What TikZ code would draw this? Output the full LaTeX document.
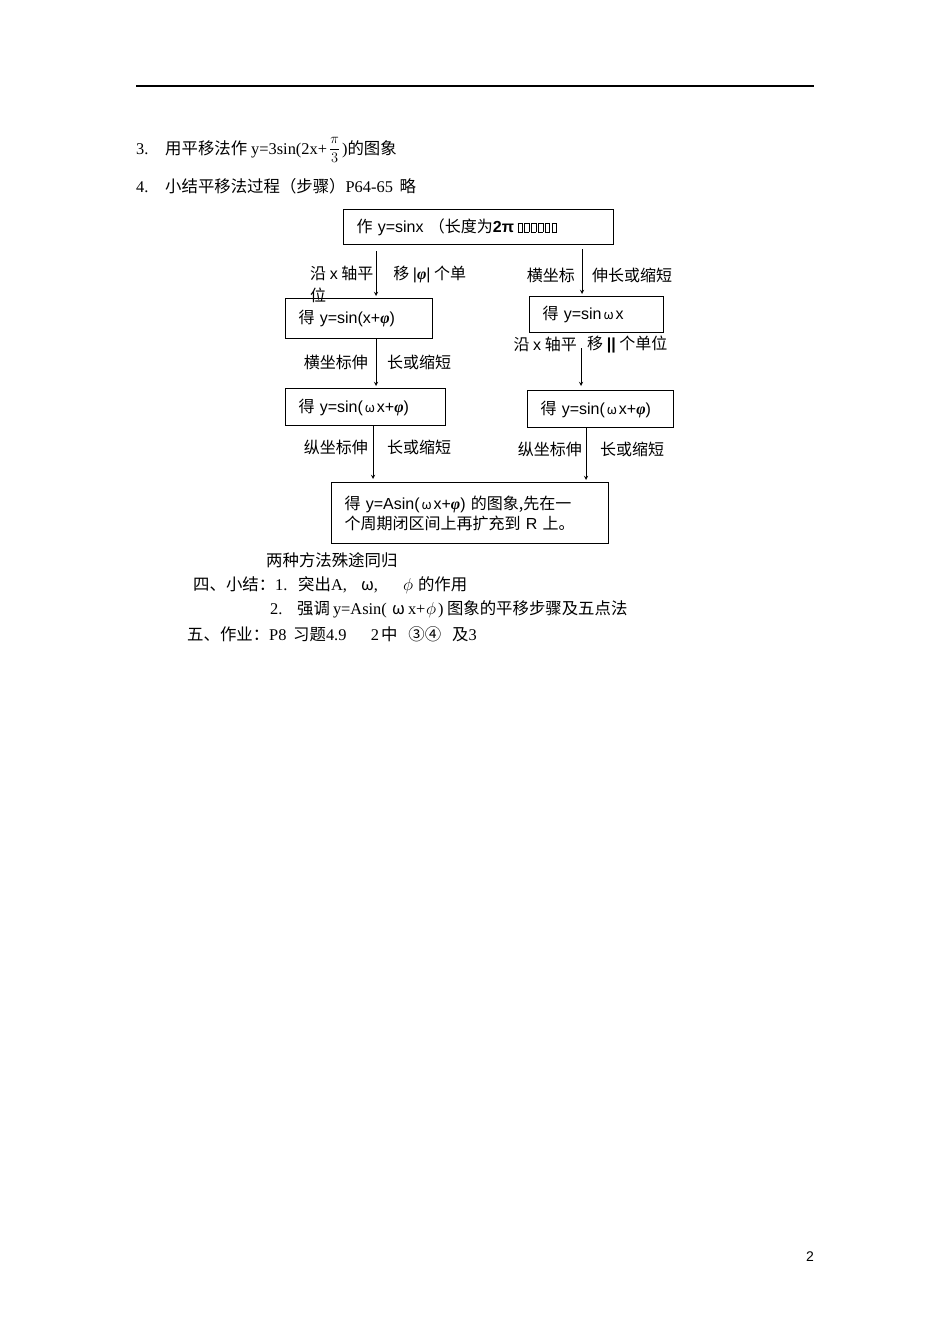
\documentclass[tikz,border=0pt]{standalone}
\usepackage{fontspec}
\setmainfont{Liberation Serif}
\newfontfamily\cjk{Noto Sans CJK SC}
\newfontfamily\arial{Liberation Sans}
\usetikzlibrary{calc}
\tikzset{>=stealth}
\newcommand\zh[1]{{\cjk #1}}
\newcommand\slot[2]{\makebox[#1pt][l]{#2}}
\newcommand\omg{\makebox[14pt]{\cjk\fontsize{13}{13}\selectfont ω}}
\newcommand\phiv{{\rmfamily\bfseries\itshape φ}}
\setlength{\fboxsep}{0pt}
\setlength{\fboxrule}{0.5pt}
\newcommand\tofu{\kern0.9pt\fbox{\rule{0pt}{9pt}\rule{4pt}{0pt}}\kern0.9pt}
\tikzset{
  stepbox/.style={draw, line width=1pt, anchor=north west, inner xsep=13pt, inner ysep=0pt, align=left, font=\arial\fontsize{16}{20}\selectfont},
  flowlabel/.style={inner sep=0pt, font=\cjk\fontsize{16}{20}\selectfont},
  bodytext/.style={anchor=west, inner sep=0pt, font=\fontsize{16.4}{20}\selectfont},
}

\begin{document}
\begin{tikzpicture}[x=1pt, y=-1pt]
\useasboundingbox [fill=white] (0,0) rectangle (950,1344);

\draw [line width=1.3pt] (136,86) -- (814,86);

\node (item3) [bodytext] at (136,150) {\slot{29}{3.}\zh{用平移法作}\hspace{4pt}\slot{78}{y=3sin(2x+}{\fontsize{14}{16}\selectfont\raisebox{1pt}{$\displaystyle\frac{\pi}{3}$}}\hspace{2pt})\zh{的图象}};
\node (item4) [bodytext] at (136,186) {\slot{29}{4.}\zh{小结平移法过程（步骤）}\slot{54}{P64-65}\zh{略}};

% boxes
\node (start) [stepbox, text width=244pt, minimum height=35pt] at (343,209) {\zh{作} y=sinx \zh{（长度为}{\bfseries 2π}\,\tofu\tofu\tofu\tofu\tofu\tofu};
\node (shiftx) [stepbox, text width=121pt, minimum height=40pt] at (285,298) {\zh{得} y=sin(x+\phiv)};
\node (stretchx) [stepbox, text width=134pt, minimum height=37pt] at (285,388) {\zh{得} y=sin(\omg x+\phiv)};
\node (omegax) [stepbox, text width=108pt, minimum height=36pt] at (529,296) {\zh{得} y=sin\omg x};
\node (omegaphi) [stepbox, text width=120pt, minimum height=37pt] at (527,390) {\zh{得} y=sin(\omg x+\phiv)};
\node (result) [stepbox, text width=251pt, minimum height=61pt] at (331,482) {\zh{得} y=Asin(\omg x+\phiv) \zh{的图象,先在一}\\\zh{个周期闭区间上再扩充到} R \zh{上。}};

% arrow columns
\coordinate (lcol) at (376,0);
\coordinate (lcolb) at (373,0);
\coordinate (rcol) at (582,0);
\coordinate (rcolb) at (581,0);
\coordinate (rcolc) at (586,0);

\draw [->, line width=0.9pt, shorten <=6pt, shorten >=2pt] (lcol |- start.south) -- (lcol |- shiftx.north);
\draw [->, line width=0.9pt, shorten >=2pt] (lcol |- shiftx.south) -- (lcol |- stretchx.north);
\draw [->, line width=0.9pt, shorten >=3pt] (lcolb |- stretchx.south) -- (lcolb |- result.north);
\draw [->, line width=0.9pt, shorten <=4pt, shorten >=2pt] (rcol |- start.south) -- (rcol |- omegax.north);
\draw [->, line width=0.9pt, shorten <=15pt, shorten >=4pt] (rcolb |- omegax.south) -- (rcolb |- omegaphi.north);
\draw [->, line width=0.9pt, shorten >=2pt] (rcolc |- omegaphi.south) -- (rcolc |- result.north);

% labels on the arrows
\node (lshifta) [flowlabel, anchor=west] at (310,274) {沿 {\arial x} 轴平\hspace{20pt}移 {\arial |}\phiv{\arial |} 个单};
\node (lshiftb) [flowlabel, anchor=west] at (310,295) {位};
\node (lstretcha) [flowlabel, anchor=east] at (368,362) {横坐标伸};
\node (lstretchb) [flowlabel, anchor=west] at (387,362) {长或缩短};
\node (lampa) [flowlabel, anchor=east] at (368,447) {纵坐标伸};
\node (lampb) [flowlabel, anchor=west] at (387,447) {长或缩短};
\node (rstretcha) [flowlabel, anchor=east] at (575,275) {横坐标};
\node (rstretchb) [flowlabel, anchor=west] at (592,275) {伸长或缩短};
\node (rshifta) [flowlabel, anchor=east] at (577,344) {沿 {\arial x} 轴平};
\node (rshiftb) [flowlabel, anchor=west] at (587,344) {移 {\arial\bfseries ||} 个单位};
\node (rampa) [flowlabel, anchor=east] at (582,449) {纵坐标伸};
\node (rampb) [flowlabel, anchor=west] at (600,449) {长或缩短};

% closing lines
\node (same) [bodytext] at (266,560) {\zh{两种方法殊途同归}};
\node (sum1) [bodytext] at (193,585) {\zh{四、小结：}\slot{23}{1.}\zh{突出}\slot{30}{A,}\slot{42}{\zh{ω},}\slot{15}{$\phi$}\zh{的作用}};
\node (sum2) [bodytext] at (270,609) {\slot{27}{2.}\zh{强调}\hspace{3pt}\slot{59}{y=Asin(}\slot{16}{\zh{ω}}\slot{18}{x+}\slot{12}{$\phi$}\slot{9}{)}\zh{图象的平移步骤及五点法}};
\node (work) [bodytext] at (187,634) {\zh{五、作业：}\slot{24}{P8}\zh{习题}\slot{45}{4.9}\slot{10}{2}\zh{中}\hspace{11pt}\zh{③④}\hspace{11pt}\zh{及}3};

\node (pageno) [font=\arial\fontsize{14}{16}\selectfont] at (810,1257) {2};
\end{tikzpicture}
\end{document}
